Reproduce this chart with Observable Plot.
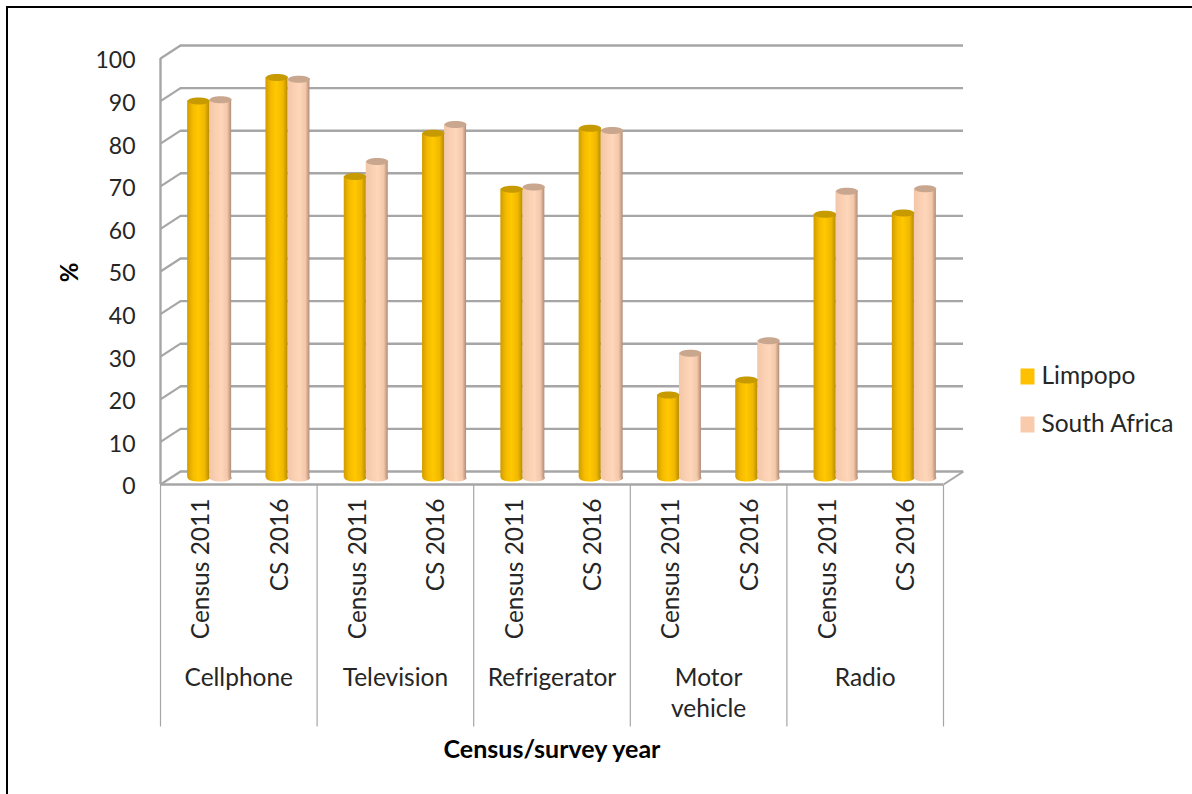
<!DOCTYPE html>
<html><head><meta charset="utf-8">
<script src="https://cdn.jsdelivr.net/npm/d3@7"></script>
<script src="https://cdn.jsdelivr.net/npm/@observablehq/plot@0.6"></script>
<style>
html,body{margin:0;padding:0;background:#fff;width:1192px;height:794px;overflow:hidden}
#c{position:absolute;left:0;top:0;width:1192px;height:794px}
#c svg{position:absolute;left:0;top:0;overflow:visible}
#b{position:absolute;left:6px;top:6px;right:-10px;bottom:-10px;border:2.5px solid #000;pointer-events:none}
</style></head><body>
<div id="c"></div><div id="b"></div>
<script>
const groups = ["Cellphone","Television","Refrigerator","Motor\nvehicle","Radio"];
const years = ["Census 2011","CS 2016"];
const limpopo = [88.5,94,70.8,80.9,67.8,82.1,19.5,23,61.9,62.2];
const southAfrica = [88.8,93.6,74.3,83,68.3,81.6,29.3,32.2,67.3,67.9];
const yTicks = d3.range(0,101,10);
const seriesNames = ["Limpopo","South Africa"];
const colors = ["#FFC000","#F8CBAD"];

const FONT = "Lato, 'Open Sans', sans-serif";
const depthX = 20, depthY = -13;         // px offset of the back wall
const halfBar = 11;                      // px half width of a cylinder
const periods = limpopo.map((v,i)=>i);
const W = 1192, H = 794, L = 160, R = 943, T = 58, B = 484;
const unit = (R-L)/periods.length;
const yUnit = (B-T)/100;
const barW = 2*halfBar/unit;
const grey = "#a6a6a6";

const ellipse = (rx,ry)=>({draw(ctx){
  const k=0.5523;
  ctx.moveTo(rx,0);
  ctx.bezierCurveTo(rx,ry*k,rx*k,ry,0,ry);
  ctx.bezierCurveTo(-rx*k,ry,-rx,ry*k,-rx,0);
  ctx.bezierCurveTo(-rx,-ry*k,-rx*k,-ry,0,-ry);
  ctx.bezierCurveTo(rx*k,-ry,rx,-ry*k,rx,0);
  ctx.closePath();
}});
const box = (w,h)=>({draw(ctx){
  ctx.moveTo(-w/2,-h/2);ctx.lineTo(w/2,-h/2);ctx.lineTo(w/2,h/2);ctx.lineTo(-w/2,h/2);ctx.closePath();
}});
const rows = s => periods.map(i=>({i,v:s===0?limpopo[i]:southAfrica[i]}));
const cx = (s,i)=> i+.5+(s===0?-barW/2:barW/2);

function cyl(s){
  const d = rows(s);
  const x1 = r=>cx(s,r.i)-barW/2, x2 = r=>cx(s,r.i)+barW/2, x=r=>cx(s,r.i);
  const o = {dx:depthX/2, dy:depthY/2};
  return [
    Plot.dot(d,{x,y:()=>0,symbol:ellipse(halfBar,3.5),r:1,fill:`url(#g${s})`,...o}),
    Plot.rect(d,{x1,x2,y1:()=>0,y2:"v",fill:`url(#g${s})`,inset:0,...o}),
    Plot.dot(d,{x,y:"v",symbol:ellipse(halfBar,3.5),r:1,fill:s===0?"#c79a00":"#c9a68e",...o}),
  ];
}
const defs = ()=>{
  const ns="http://www.w3.org/2000/svg";
  const g=document.createElementNS(ns,"g");
  g.innerHTML=`<defs>
  <linearGradient id="g0"><stop offset="0" stop-color="#d09c00"/><stop offset=".25" stop-color="#f5bb00"/><stop offset=".5" stop-color="#ffc800"/><stop offset=".8" stop-color="#f0b800"/><stop offset="1" stop-color="#b88c00"/></linearGradient>
  <linearGradient id="g1"><stop offset="0" stop-color="#f2c6a8"/><stop offset=".3" stop-color="#fbd0b2"/><stop offset=".55" stop-color="#fed6ba"/><stop offset=".82" stop-color="#f3c7aa"/><stop offset="1" stop-color="#b08c76"/></linearGradient>
  </defs>`;
  return g;
};
const labels = periods.map(i=>({i,t:years[i%2]}));
const grp = groups.map((t,i)=>({t,c:2*i+1}));
const seps = d3.range(0,11,2);
const chart = Plot.plot({
  width:W,height:H,marginLeft:L,marginRight:W-R,marginTop:T,marginBottom:H-B,
  x:{type:"linear",domain:[0,periods.length],axis:null},
  y:{type:"linear",domain:[0,100],axis:null},
  style:{background:"transparent",fontFamily:FONT,color:"#222"},
  marks:[
    defs,
    Plot.ruleY(yTicks,{stroke:grey,strokeWidth:2.4,dx:depthX,dy:depthY}),
    Plot.link(yTicks,{x1:()=>0,x2:()=>depthX/unit,y1:d=>d,y2:d=>d-depthY/yUnit,stroke:grey,strokeWidth:2.2}),
    Plot.link([0],{x1:()=>periods.length,x2:()=>periods.length+depthX/unit,y1:()=>0,y2:()=>-depthY/yUnit,stroke:grey,strokeWidth:2}),
    Plot.ruleY([0],{stroke:grey,strokeWidth:2.4}),
    Plot.ruleX([0],{y1:()=>0,y2:()=>100,stroke:grey,strokeWidth:2.4}),
    Plot.link(seps,{x1:d=>d,x2:d=>d,y1:()=>0,y2:()=>-(726-B)/yUnit,stroke:grey,strokeWidth:1.2}),
    ...cyl(1),...cyl(0),
    Plot.text(yTicks,{x:()=>0,y:d=>d,text:d=>String(d),textAnchor:"end",dx:-25,dy:2.5,fontSize:23,fill:"#262626"}),
    Plot.text(labels,{x:d=>d.i+.5,y:()=>0,text:"t",rotate:-90,textAnchor:"end",dy:14,dx:2,fontSize:24.5,fill:"#262626"}),
    Plot.text(grp,{x:"c",y:()=>0,text:"t",lineAnchor:"top",lineHeight:1.27,dy:179,fontSize:24.5,fill:"#262626"}),
    Plot.text(["%"],{text:d=>d,frameAnchor:"left",textAnchor:"middle",rotate:-90,dx:-90,dy:1,fontSize:24,fontWeight:700,fill:"#000"}),
    Plot.text(["Census/survey year"],{text:d=>d,frameAnchor:"bottom",dy:273,fontSize:25,fontWeight:700,fill:"#000"}),
    ...seriesNames.map((n,k)=>Plot.dot([n],{frameAnchor:"top-left",dx:1027-L,dy:376-T+48*k,r:1,symbol:box(14,16),fill:colors[k]})),
    ...seriesNames.map((n,k)=>Plot.text([n],{text:d=>d,frameAnchor:"top-left",dx:1041-L,dy:376-T+48*k,textAnchor:"start",lineAnchor:"middle",fontSize:24.5,fill:"#262626"})),
  ]
});
document.getElementById("c").appendChild(chart);
</script>
</body></html>
